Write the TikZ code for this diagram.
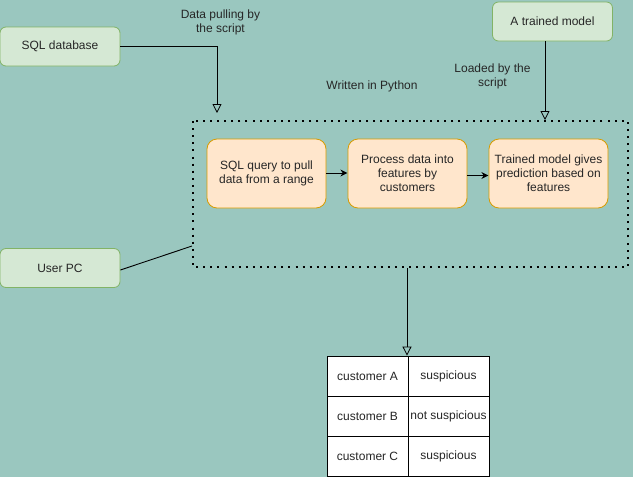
\documentclass[tikz,border=0pt]{standalone}
\usepackage{fontspec}
\setmainfont{Liberation Sans}
\usetikzlibrary{arrows.meta}
\definecolor{bg}{HTML}{9AC7BF}
\definecolor{gfill}{HTML}{D5E8D4}
\definecolor{gline}{HTML}{82B366}
\definecolor{ofill}{HTML}{FFE6CC}
\definecolor{oline}{HTML}{D79B00}
\tikzset{
  greenbox/.style={draw=gline, fill=gfill, rounded corners=6pt, minimum width=120pt, minimum height=39pt, inner sep=0pt, align=center, line width=0.8pt},
  orangebox/.style={draw=oline, fill=ofill, rounded corners=10pt, minimum width=119pt, minimum height=69pt, inner sep=0pt, align=center, line width=0.8pt},
  cellbox/.style={draw=black, fill=white, minimum width=81pt, minimum height=40pt, inner sep=0pt, line width=0.8pt},
  lbl/.style={align=center, inner sep=0pt},
  openarrow/.style={-{Triangle[open,length=9pt,width=9pt]}, line width=0.8pt, draw=black},
  fillarrow/.style={-{Stealth[length=7pt,width=7pt]}, line width=0.9pt, draw=black},
  plainline/.style={line width=0.9pt, draw=black},
  dotbox/.style={draw=black, line width=2pt, dash pattern=on 2pt off 5.1pt}
}
\begin{document}
\begin{tikzpicture}[x=1pt,y=-1pt, font=\fontsize{12}{14}\selectfont, text=black!85]
\fill[bg] (0,0) rectangle (633,477);
\useasboundingbox (0,0) rectangle (633,477);

\node[greenbox] (sql) at (60,46.5) {SQL database};
\node[greenbox] (model) at (552.5,21.5) {A trained model};
\node[greenbox] (pc) at (60,268) {User PC};

\node[lbl] (lpull) at (220.5,22.5) {Data pulling by\\the script};
\node[lbl] (lload) at (492.5,76) {Loaded by the\\script};
\node[lbl] (lpy) at (372,86) {Written in Python};

\draw[dotbox] (193,121) rectangle (628,267);
\coordinate (boxtopL) at (217,113);
\coordinate (boxtopR) at (545,120);
\coordinate (boxleft) at (192,246);
\coordinate (boxbot) at (407,268);

\node[orangebox] (q) at (266.5,173.5) {SQL query to pull\\data from a range};
\node[orangebox] (p) at (407.5,173.5) {Process data into\\features by\\customers};
\node[orangebox] (t) at (548.5,173.5) {Trained model gives\\prediction based on\\features};

\draw[fillarrow] (q.east) ++(0,-0.5) -- ++(21,0);
\draw[fillarrow] (p.east) ++(0,2) -- ++(21,0);

\draw[openarrow] (sql.east) -| (boxtopL);
\draw[openarrow] (model.south -| boxtopR) -- (boxtopR);
\draw[plainline] (pc.east) ++(0,2) -- (boxleft);

\node[cellbox] (a1) at (367.5,376) {customer A};
\node[cellbox] (a2) at (448.5,376) {suspicious};
\node[cellbox] (b1) at (367.5,416) {customer B};
\node[cellbox] (b2) at (448.5,416) {not suspicious};
\node[cellbox] (c1) at (367.5,456) {customer C};
\node[cellbox] (c2) at (448.5,456) {suspicious};

\draw[openarrow] (boxbot) -- (boxbot |- a1.north);
\end{tikzpicture}
\end{document}
